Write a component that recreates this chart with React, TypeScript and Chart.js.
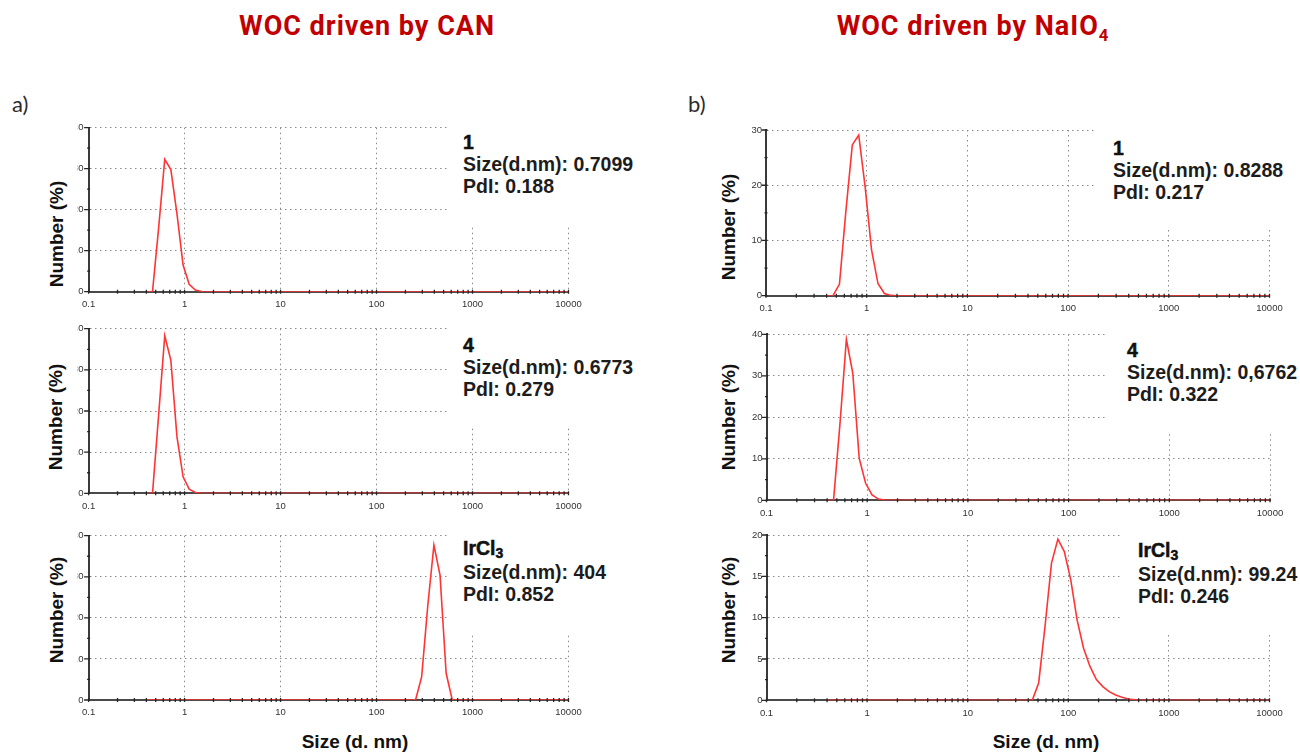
import React, { useEffect, useRef } from 'react';
import { Chart, registerables } from 'chart.js';

Chart.register(...registerables);

// ---- data ---------------------------------------------------------------

// Size classes (d. nm) around each peak; 0.4 and 10000 close the baseline.
const sizesCan1 = [0.4, 0.4632, 0.5365, 0.6213, 0.7195, 0.8332, 0.9649, 1.117, 1.294, 1.499, 1.736, 10000];
const numberCan1 = [0, 0, 15.5, 32.3, 29.8, 19.0, 6.5, 1.8, 0.4, 0.05, 0, 0];

const sizesCan4 = [0.4, 0.4632, 0.5365, 0.6213, 0.7195, 0.8332, 0.9649, 1.117, 1.294, 1.499, 1.736, 10000];
const numberCan4 = [0, 0, 19.0, 38.3, 32.3, 13.7, 4.0, 1.0, 0.2, 0.03, 0, 0];

const sizesCanIr = [0.4, 255.0, 295.3, 342.0, 396.1, 458.7, 531.2, 615.1, 10000];
const numberCanIr = [0, 0, 5.7, 23.0, 37.7, 30.4, 6.5, 0, 0];

const sizesIo1 = [0.4, 0.4632, 0.5365, 0.6213, 0.7195, 0.8332, 0.9649, 1.117, 1.294, 1.499, 1.736, 2.01, 10000];
const numberIo1 = [0, 0, 2.1, 15.3, 27.3, 29.1, 19.7, 8.3, 2.2, 0.4, 0.05, 0, 0];

const sizesIo4 = [0.4, 0.4632, 0.5365, 0.6213, 0.7195, 0.8332, 0.9649, 1.117, 1.294, 1.499, 1.736, 10000];
const numberIo4 = [0, 0, 18.4, 38.8, 30.6, 10.1, 4.1, 1.3, 0.3, 0.05, 0, 0];

const sizesIoIr = [0.4, 43.82, 50.75, 58.77, 68.06, 78.82, 91.28, 105.7, 122.4, 141.8, 164.2, 190.1, 220.2, 255.0, 295.3, 342.0, 396.1, 458.7, 531.2, 10000];
const numberIoIr = [0, 0, 2.1, 9.0, 16.6, 19.5, 18.0, 14.6, 9.7, 6.3, 4.1, 2.5, 1.65, 1.05, 0.65, 0.36, 0.16, 0.05, 0, 0];

// Sample readouts shown beside each distribution
const sampleNames = ['1', '4', 'IrCl3', '1', '4', 'IrCl3'];
const sizeReadouts = ['0.7099', '0.6773', '404', '0.8288', '0,6762', '99.24'];
const pdiReadouts = ['0.188', '0.279', '0.852', '0.217', '0.322', '0.246'];

// Axes
const yMaxima = [40, 40, 40, 30, 40, 20];
const yMinorSteps = [5, 5, 5, 5, 5, 2.5];
const yLabelSteps = [10, 10, 10, 10, 10, 5];
const decades = [0.1, 1, 10, 100, 1000, 10000];
const decadeLabels = ['0.1', '1', '10', '100', '1000', '10000'];
const mantissas = [1, 2, 3, 4, 5, 6, 7, 8, 9];

const columnTitles = ['WOC driven by CAN', 'WOC driven by NaIO'];
const panelLetters = ['a)', 'b)'];
const yAxisTitle = 'Number (%)';
const xAxisTitle = 'Size (d. nm)';

const SERIES = [
  [sizesCan1, numberCan1],
  [sizesCan4, numberCan4],
  [sizesCanIr, numberCanIr],
  [sizesIo1, numberIo1],
  [sizesIo4, numberIo4],
  [sizesIoIr, numberIoIr],
];

// ---- layout ---------------------------------------------------------------

const FONT = '"Liberation Sans", Arial, Helvetica, sans-serif';
const GRID = '#8a8a8a';
const LINE_RED = '#ff3434';
const TICK_FONT_SIZE = 9.5;

type PanelBox = {
  plotLeft: number; plotRight: number; plotTop: number; plotBottom: number;
  yAxisWidth: number; labelPad: number;
  maskLeft: number; maskBottom: number; maskRight: number;
  textLeft: number; textBaseline: number;
  titleX: number; titleY: number;
};

const PANEL_LAYOUT: PanelBox[] = [
  { plotLeft: 86, plotRight: 568.5, plotTop: 127.5, plotBottom: 291.7, yAxisWidth: 11, labelPad: 5, maskLeft: 447, maskBottom: 226, maskRight: 645, textLeft: 463, textBaseline: 149, titleX: 57, titleY: 234 },
  { plotLeft: 86, plotRight: 568.5, plotTop: 328.3, plotBottom: 493.3, yAxisWidth: 11, labelPad: 5, maskLeft: 447, maskBottom: 428, maskRight: 645, textLeft: 463, textBaseline: 352, titleX: 56, titleY: 417 },
  { plotLeft: 86, plotRight: 568.5, plotTop: 535.7, plotBottom: 700, yAxisWidth: 11, labelPad: 5, maskLeft: 447, maskBottom: 635, maskRight: 645, textLeft: 463, textBaseline: 555, titleX: 57, titleY: 610 },
  { plotLeft: 766, plotRight: 1269.5, plotTop: 130, plotBottom: 295.7, yAxisWidth: 26, labelPad: 4, maskLeft: 1096, maskBottom: 229, maskRight: 1300, textLeft: 1113, textBaseline: 155, titleX: 729, titleY: 227 },
  { plotLeft: 766.5, plotRight: 1270, plotTop: 334.3, plotBottom: 500.3, yAxisWidth: 26.5, labelPad: 4, maskLeft: 1108, maskBottom: 434, maskRight: 1300, textLeft: 1127, textBaseline: 357, titleX: 729, titleY: 417 },
  { plotLeft: 766.5, plotRight: 1269.5, plotTop: 535, plotBottom: 700.3, yAxisWidth: 26.5, labelPad: 4, maskLeft: 1123, maskBottom: 634, maskRight: 1300, textLeft: 1138, textBaseline: 557, titleX: 729, titleY: 610 },
];

// log-axis ticks: every mantissa of each decade, labels on the decades only
type XTick = { value: number; label: string };
const X_TICKS: XTick[] = [];
decades.slice(0, -1).forEach((d, i) => {
  mantissas.forEach((m) => X_TICKS.push({ value: d * m, label: m === 1 ? decadeLabels[i] : '' }));
});
X_TICKS.push({ value: decades[decades.length - 1], label: decadeLabels[decadeLabels.length - 1] });

const isMultiple = (v: number, step: number) => Math.abs(v / step - Math.round(v / step)) < 1e-6;

// short tick marks straddling both axes, painted above the curve
const axisMarks = {
  id: 'axisMarks',
  afterDatasetsDraw(chart: any, _args: any, opts: any) {
    const { ctx, chartArea } = chart;
    const xs = chart.scales.x;
    const ys = chart.scales.y;
    ctx.save();
    ctx.strokeStyle = '#262626';
    ctx.lineWidth = 1.3;
    ctx.beginPath();
    xs.ticks.forEach((t: any) => {
      const px = xs.getPixelForValue(t.value);
      ctx.moveTo(px, chartArea.bottom - 2);
      ctx.lineTo(px, chartArea.bottom + 2);
    });
    ys.ticks.forEach((t: any) => {
      const py = ys.getPixelForValue(t.value);
      const major = isMultiple(t.value, opts.major);
      ctx.moveTo(chartArea.left - (major ? 4.5 : 1.5), py);
      ctx.lineTo(chartArea.left + 1.5, py);
    });
    ctx.stroke();
    ctx.restore();
  },
};

function DistributionChart({ index }: { index: number }) {
  const ref = useRef<HTMLCanvasElement | null>(null);
  const L = PANEL_LAYOUT[index];
  const canvasLeft = L.plotLeft - L.yAxisWidth;
  const canvasTop = Math.floor(L.plotTop - 10);
  const width = Math.ceil(L.plotRight + 24 - canvasLeft);
  const height = Math.ceil(L.plotBottom + 24 - canvasTop);
  const padTop = L.plotTop - canvasTop;
  const padRight = canvasLeft + width - L.plotRight;
  const xAxisHeight = canvasTop + height - L.plotBottom;

  useEffect(() => {
    const [sizes, numbers] = SERIES[index];
    const major = yLabelSteps[index];
    const chart = new Chart(ref.current as HTMLCanvasElement, {
      type: 'line',
      data: {
        datasets: [
          {
            data: sizes.map((s, i) => ({ x: s, y: numbers[i] })),
            borderColor: LINE_RED,
            borderWidth: 1.6,
            pointRadius: 0,
            tension: 0,
            fill: false,
          },
        ],
      },
      plugins: [axisMarks],
      options: {
        animation: false,
        responsive: false,
        maintainAspectRatio: false,
        events: [],
        layout: { padding: { top: padTop, right: padRight, left: 0, bottom: 0 } },
        plugins: {
          legend: { display: false },
          tooltip: { enabled: false },
          axisMarks: { major },
        } as any,
        scales: {
          x: {
            type: 'logarithmic',
            min: decades[0],
            max: decades[decades.length - 1],
            afterBuildTicks: (scale: any) => {
              scale.ticks = X_TICKS.map((t) => ({ value: t.value }));
            },
            afterFit: (scale: any) => {
              scale.height = xAxisHeight;
            },
            grid: {
              color: (ctx: any) => (X_TICKS[ctx.index] && X_TICKS[ctx.index].label ? GRID : 'rgba(0,0,0,0)'),
              lineWidth: 1,
              drawTicks: false,
            },
            border: { color: '#4a4a4a', width: 2, dash: [1.5, 3.5] },
            ticks: {
              autoSkip: false,
              maxRotation: 0,
              minRotation: 0,
              padding: 7,
              color: '#333',
              font: { family: FONT, size: TICK_FONT_SIZE },
              callback: (_v: any, i: number) => (X_TICKS[i] ? X_TICKS[i].label : ''),
            },
          },
          y: {
            type: 'linear',
            min: 0,
            max: yMaxima[index],
            afterFit: (scale: any) => {
              scale.width = L.yAxisWidth;
            },
            grid: {
              color: (ctx: any) => (ctx.tick && isMultiple(ctx.tick.value, major) ? GRID : 'rgba(0,0,0,0)'),
              lineWidth: 1,
              drawTicks: false,
            },
            border: { color: '#3a3a3a', width: 2, dash: [1.5, 3.5] },
            ticks: {
              stepSize: yMinorSteps[index],
              autoSkip: false,
              padding: L.labelPad,
              color: '#333',
              font: { family: FONT, size: TICK_FONT_SIZE },
              callback: (v: any) => (isMultiple(Number(v), major) ? String(v) : ''),
            },
          },
        },
      } as any,
    });
    return () => chart.destroy();
  }, []);

  return (
    <canvas
      ref={ref}
      width={width}
      height={height}
      style={{ position: 'absolute', left: canvasLeft, top: canvasTop, width, height, display: 'block' }}
    />
  );
}

function SampleName({ name }: { name: string }) {
  if (name === 'IrCl3') {
    return (
      <span>
        IrCl<span style={{ fontSize: '0.72em', position: 'relative', top: '0.22em' }}>3</span>
      </span>
    );
  }
  return <span>{name}</span>;
}

function PanelOverlay({ index }: { index: number }) {
  const L = PANEL_LAYOUT[index];
  const maskTop = L.plotTop - 8;
  const textTop = L.textBaseline - 17.8;
  return (
    <>
      <div
        style={{
          position: 'absolute',
          left: L.maskLeft,
          top: maskTop,
          width: L.maskRight - L.maskLeft,
          height: L.maskBottom - maskTop,
          background: '#fff',
        }}
      />
      <div
        style={{
          position: 'absolute',
          left: L.textLeft,
          top: textTop,
          font: `bold 19.5px ${FONT}`,
          lineHeight: '22px',
          color: '#1c1c1c',
          whiteSpace: 'nowrap',
        }}
      >
        <div style={{ fontWeight: 900, WebkitTextStroke: '0.5px #111', color: '#111' }}>
          <SampleName name={sampleNames[index]} />
        </div>
        <div>Size(d.nm): {sizeReadouts[index]}</div>
        <div>PdI: {pdiReadouts[index]}</div>
      </div>
      <div
        style={{
          position: 'absolute',
          left: L.titleX,
          top: L.titleY,
          transform: 'translate(-50%, -50%) rotate(-90deg)',
          font: `bold 19px ${FONT}`,
          color: '#111',
          whiteSpace: 'nowrap',
        }}
      >
        {yAxisTitle}
      </div>
    </>
  );
}

export default function App() {
  const titleStyle: React.CSSProperties = {
    position: 'absolute',
    top: 13.3,
    transform: 'translateX(-50%)',
    font: `700 27px Roboto, ${FONT}`,
    lineHeight: '27px',
    letterSpacing: '1px',
    color: '#c00000',
    whiteSpace: 'nowrap',
  };
  const letterStyle: React.CSSProperties = {
    position: 'absolute',
    top: 92.5,
    font: '22px Lato, "Open Sans", sans-serif',
    lineHeight: '22px',
    color: '#2b2b2b',
  };
  const xTitleStyle: React.CSSProperties = {
    position: 'absolute',
    top: 741.5,
    transform: 'translate(-50%, -50%)',
    font: `bold 19px ${FONT}`,
    color: '#111',
    whiteSpace: 'nowrap',
  };
  return (
    <div style={{ position: 'absolute', left: 0, top: 0, width: 1300, height: 753, background: '#fff', overflow: 'hidden' }}>
      {PANEL_LAYOUT.map((_, i) => (
        <DistributionChart key={`c${i}`} index={i} />
      ))}
      {PANEL_LAYOUT.map((_, i) => (
        <PanelOverlay key={`o${i}`} index={i} />
      ))}
      <div style={{ ...titleStyle, left: 367 }}>{columnTitles[0]}</div>
      <div style={{ ...titleStyle, left: 973 }}>
        {columnTitles[1]}
        <span style={{ fontSize: '0.62em', position: 'relative', top: '0.32em' }}>4</span>
      </div>
      <div style={{ ...letterStyle, left: 12 }}>{panelLetters[0]}</div>
      <div style={{ ...letterStyle, left: 688 }}>{panelLetters[1]}</div>
      <div style={{ ...xTitleStyle, left: 355 }}>{xAxisTitle}</div>
      <div style={{ ...xTitleStyle, left: 1046 }}>{xAxisTitle}</div>
    </div>
  );
}
